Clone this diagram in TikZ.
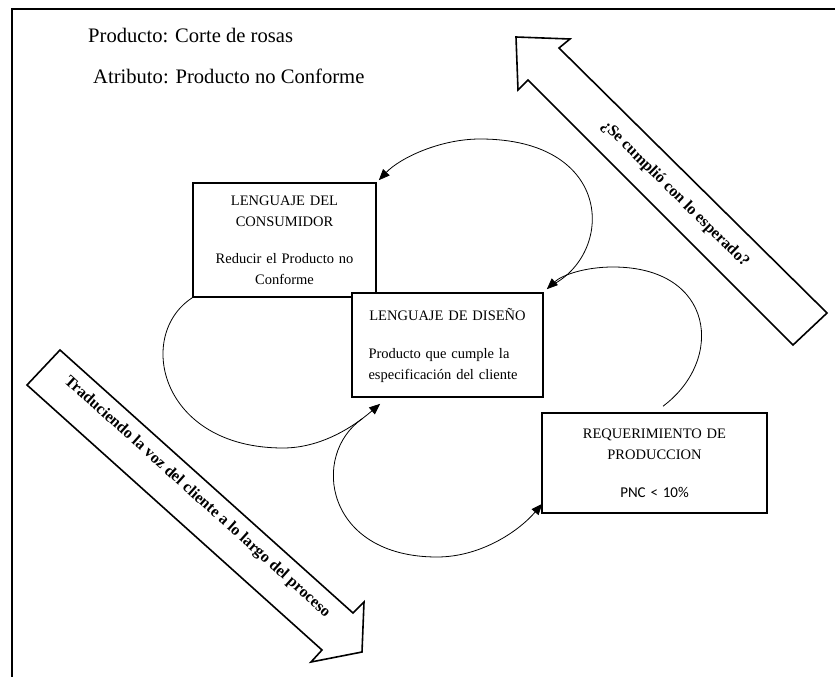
\documentclass[tikz,border=0pt]{standalone}
\usepackage{fontspec}
\setmainfont{Liberation Serif}
\newfontfamily\calib{Carlito}
\usetikzlibrary{arrows.meta}
\begin{document}
\begin{tikzpicture}[x=1pt,y=-1pt,
 box/.style={draw,line width=1.6pt,fill=white,inner sep=0pt,align=center,font=\fontsize{14.5}{21}\selectfont},
 arc/.style={line width=0.8pt,-{Triangle[length=11pt,width=9pt]}},
 big/.style={draw,line width=1.6pt,line join=miter,fill=white},
 lbl/.style={font=\fontsize{16}{18}\selectfont\bfseries,inner sep=0pt},
 top/.style={anchor=base west,inner sep=0pt,font=\fontsize{20.6}{24}\selectfont}]
\useasboundingbox (0,0) rectangle (835,677);
\draw[line width=1.8pt] (12,677) -- (12,9) -- (835,9);

\node[top] (prod) at (88,43) {Producto: Corte de rosas};
\node[top] (attr) at (93,83) {Atributo: Producto no Conforme};

% big hollow arrows
\draw[big] (827,313) -- (559,48) -- (570,39) -- (516,37) -- (518,90) -- (528,80) -- (793,345) -- cycle;
\draw[big] (60,350) -- (353,613) -- (364,602) -- (362,652) -- (311,662) -- (322,650) -- (27,385) -- cycle;
\node[lbl,rotate=-44.7] (t1) at (675,194) {¿Se cumplió con lo esperado?};
\node[lbl,rotate=-42] (t2) at (197,497) {Traduciendo la voz del cliente a lo largo del proceso};

% boxes
\node[box,minimum width=183pt,minimum height=114pt,text width=175pt] (b1) at (284.5,240)
  {LENGUAJE DEL\\CONSUMIDOR\\[16pt]Reducir el Producto no\\Conforme};
\node[box,minimum width=191pt,minimum height=104pt,text width=158pt] (b2) at (447.5,345)
  {LENGUAJE DE DISEÑO\\[17pt]\makebox[158pt][s]{Producto que cumple la}\\\makebox[158pt][l]{especificación del cliente}};
\node[box,minimum width=225pt,minimum height=100pt,text width=215pt] (b3) at (654.5,463)
  {REQUERIMIENTO DE\\PRODUCCION\\[17pt]{\calib\fontsize{15}{18}\selectfont PNC < 10\%}};

% loops
\draw[arc] ([shift={(6,-6)}]b2.north east) .. controls (615,255) and (615,139) .. (480,139)
  .. controls (440,139) and (400,158) .. ([shift={(2,-2)}]b1.north east);
\draw[arc] ([shift={(8.5,-6)}]b3.north) .. controls (725,360) and (715,267) .. (613,267)
  .. controls (585,267) and (562,275) .. ([shift={(3,-3)}]b2.north east);
\draw[arc] (b1.south west) .. controls (135,335) and (160,448) .. (283,448)
  .. controls (320,448) and (352,428) .. ([shift={(29,6)}]b2.south west);
\draw[arc] ([shift={(11,21)}]b2.south west) .. controls (310,455) and (325,557) .. (437,557)
  .. controls (480,557) and (518,532) .. ([shift={(1,-10)}]b3.south west);
\end{tikzpicture}
\end{document}
